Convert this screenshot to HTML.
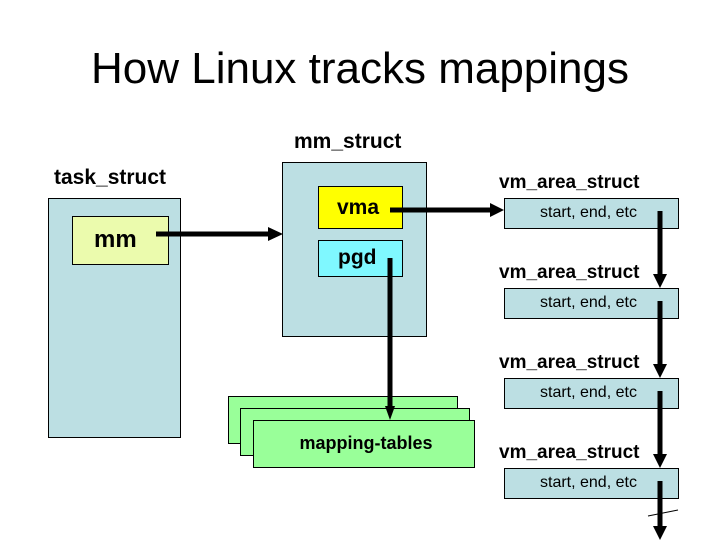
<!DOCTYPE html>
<html><head><style>
body{margin:0;width:720px;height:540px;background:#fff;position:relative;overflow:hidden;font-family:"Liberation Sans",sans-serif;}
.b{position:absolute;border:1px solid #000;box-sizing:border-box;}
.t{position:absolute;white-space:nowrap;}
.w{font-weight:bold;}
</style></head><body>
<div class="t" style="left:0;width:720px;text-align:center;top:44px;font-size:44px;">How Linux tracks mappings</div>
<div class="t w" style="left:294px;top:130px;font-size:21px;">mm_struct</div>
<div class="t w" style="left:54px;top:166px;font-size:21px;">task_struct</div>
<div class="b" style="left:48px;top:198px;width:133px;height:240px;background:#bcdfe3;"></div>
<div class="b" style="left:72px;top:216px;width:97px;height:49px;background:#ebfbad;"></div>
<div class="t w" style="left:94px;top:226px;font-size:24px;">mm</div>
<div class="b" style="left:282px;top:162px;width:145px;height:175px;background:#bcdfe3;"></div>
<div class="b" style="left:318px;top:186px;width:85px;height:43px;background:#ffff00;"></div>
<div class="t w" style="left:337px;top:196px;font-size:21px;">vma</div>
<div class="b" style="left:318px;top:240px;width:85px;height:37px;background:#7ff8ff;"></div>
<div class="t w" style="left:338px;top:246px;font-size:21px;">pgd</div>
<div class="b" style="left:228px;top:396px;width:230px;height:48px;background:#99ff99;"></div>
<div class="b" style="left:240px;top:408px;width:230px;height:48px;background:#99ff99;"></div>
<div class="b" style="left:253px;top:420px;width:222px;height:48px;background:#99ff99;"></div>
<div class="t w" style="left:253px;width:226px;text-align:center;top:433px;font-size:18px;">mapping-tables</div>
<div class="t w" style="left:499px;top:172px;font-size:19px;">vm_area_struct</div>
<div class="b" style="left:504px;top:198px;width:175px;height:31px;background:#bcdfe3;"></div>
<div class="t" style="left:540px;top:204px;font-size:16px;">start, end, etc</div>
<div class="t w" style="left:499px;top:262px;font-size:19px;">vm_area_struct</div>
<div class="b" style="left:504px;top:288px;width:175px;height:31px;background:#bcdfe3;"></div>
<div class="t" style="left:540px;top:294px;font-size:16px;">start, end, etc</div>
<div class="t w" style="left:499px;top:352px;font-size:19px;">vm_area_struct</div>
<div class="b" style="left:504px;top:378px;width:175px;height:31px;background:#bcdfe3;"></div>
<div class="t" style="left:540px;top:384px;font-size:16px;">start, end, etc</div>
<div class="t w" style="left:499px;top:442px;font-size:19px;">vm_area_struct</div>
<div class="b" style="left:504px;top:468px;width:175px;height:31px;background:#bcdfe3;"></div>
<div class="t" style="left:540px;top:474px;font-size:16px;">start, end, etc</div>
<svg width="720" height="540" style="position:absolute;left:0;top:0">
<g stroke="#000" stroke-width="5" fill="none">
<line x1="156" y1="234" x2="270" y2="234"/>
<line x1="390" y1="210" x2="492" y2="210"/>
<line x1="390" y1="258" x2="390" y2="408"/>
<line x1="660" y1="211" x2="660" y2="276"/>
<line x1="660" y1="301" x2="660" y2="366"/>
<line x1="660" y1="391" x2="660" y2="456"/>
<line x1="660" y1="481" x2="660" y2="528"/>
</g>
<line x1="648" y1="516" x2="678" y2="510" stroke="#000" stroke-width="1"/>
<g fill="#000">
<polygon points="268,227 283,234 268,241"/>
<polygon points="490,203 504,210 490,217"/>
<polygon points="385,406 395,406 390,420"/>
<polygon points="653,274 667,274 660,288"/>
<polygon points="653,364 667,364 660,378"/>
<polygon points="653,454 667,454 660,468"/>
<polygon points="653,526 667,526 660,540"/>
</g>
</svg>
</body></html>
